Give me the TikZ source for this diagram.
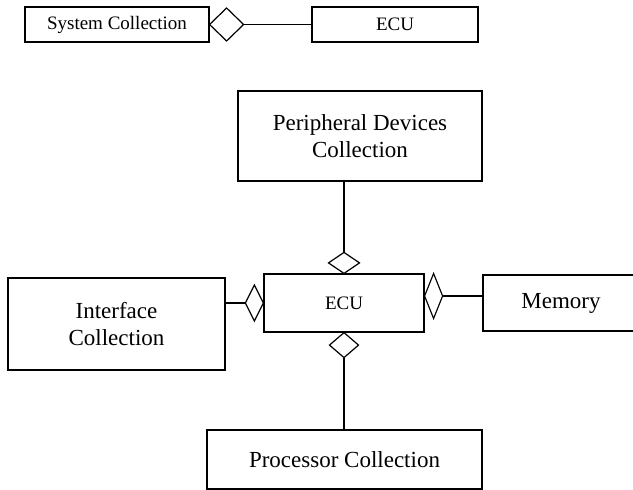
\documentclass[tikz,border=0pt]{standalone}
\usepackage{fontspec}
\setmainfont{Liberation Serif}
\usetikzlibrary{positioning,shapes.geometric}

\begin{document}
\begin{tikzpicture}[x=1pt, y=-1pt, line width=1.2pt,
    box/.style={rectangle, draw=black, inner sep=0pt, align=center, font=\fontsize{23}{27}\selectfont},
    smallbox/.style={box, font=\fontsize{19}{22}\selectfont},
    agg/.style={diamond, draw=black, fill=white, inner sep=0pt, outer sep=0pt}]
    \clip (0,0) rectangle (633,490);
    % top row
    \node[smallbox, minimum width=184pt, minimum height=35pt] (syscol) at (117,24.5) {System Collection};
    \node[agg, right=0pt of syscol, minimum width=34pt, minimum height=33pt] (dsys) {};
    \node[smallbox, minimum width=166pt, minimum height=35pt] (ecutop) at (395,24.5) {ECU};
    \draw (dsys.east) -- (ecutop.west);

    % ECU and its parts
    \node[smallbox, minimum width=160pt, minimum height=58pt] (ecu) at (344,303) {ECU};
    \node[box, minimum width=244pt, minimum height=90pt] (periph) at (360,136) {Peripheral Devices\\Collection};
    \node[box, minimum width=217pt, minimum height=92pt] (iface) at (116.5,324) {Interface\\Collection};
    \node[box, minimum width=156pt, minimum height=56pt] (mem) at (561,303) {Memory};
    \node[box, minimum width=275pt, minimum height=59pt] (proc) at (344.5,459.5) {Processor Collection};

    \node[agg, above=0pt of ecu, minimum width=31pt, minimum height=21pt] (dperiph) {};
    \node[agg, below=0pt of ecu, minimum width=29pt, minimum height=25pt] (dproc) {};
    \node[agg, left=0pt of ecu, minimum width=18pt, minimum height=36pt] (diface) {};
    \node[agg, right=0pt of ecu, yshift=7pt, minimum width=18pt, minimum height=45pt] (dmem) {};

    \draw (dperiph.north) -- (dperiph.north |- periph.south);
    \draw (dproc.south) -- (dproc.south |- proc.north);
    \draw (diface.west) -- (diface.west -| iface.east);
    \draw (dmem.east) -- (dmem.east -| mem.west);
\end{tikzpicture}
\end{document}
